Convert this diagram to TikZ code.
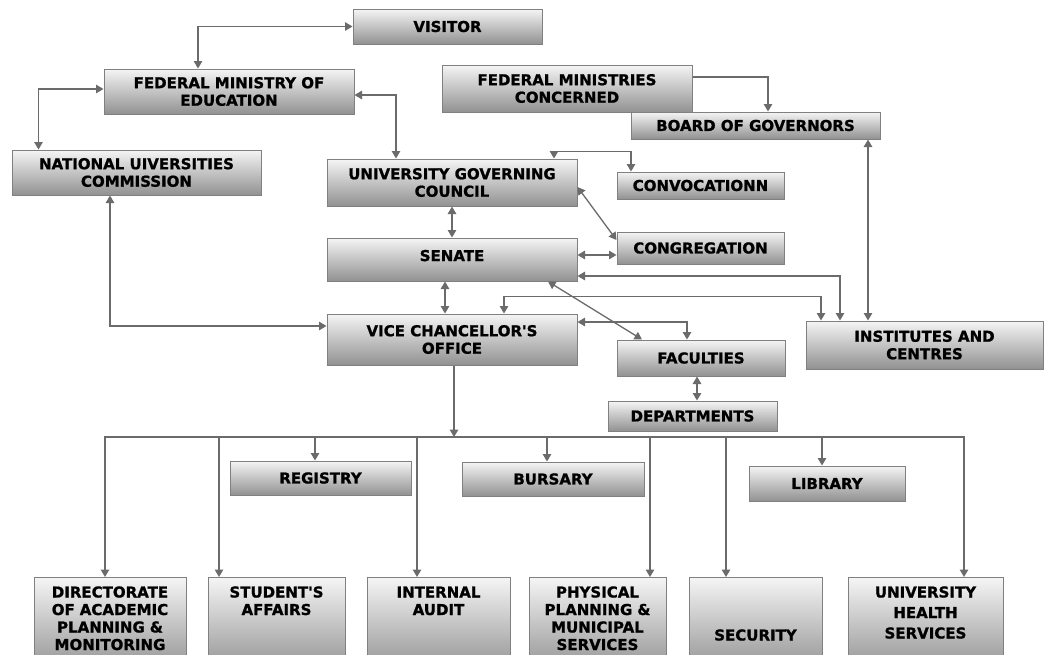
\documentclass[tikz,border=0pt]{standalone}
\usepackage{fontspec}
\setmainfont{DejaVu Sans}[Ligatures=TeXOff, BoldFeatures={FakeBold=1.1}]
\usetikzlibrary{arrows.meta}

\tikzset{
  caja/.style={draw=black!50, line width=1pt, top color=black!4, bottom color=black!43,
    font=\bfseries\fontsize{15}{17.5}\selectfont, align=center, inner sep=0pt},
  linea/.style={draw=black!58, line width=1.3pt},
  flecha/.style={linea, -{Triangle[length=7.5pt,width=8.5pt]}},
  flechas/.style={linea, {Triangle[length=7.5pt,width=8.5pt]}-{Triangle[length=7.5pt,width=8.5pt]}},
}

\begin{document}
\begin{tikzpicture}[x=1pt, y=-1pt]
\useasboundingbox (0,0) rectangle (1044,654);
\clip (0,0) rectangle (1044,654);

% Cajas superiores
\node[caja, minimum width=189pt, minimum height=35pt] (visitor) at (447.5,26.5) {VISITOR};
\node[caja, minimum width=250pt, minimum height=45pt] (fme) at (229,91.5) {FEDERAL MINISTRY OF\\EDUCATION};
\node[caja, minimum width=250pt, minimum height=47pt] (fmc) at (567,88.5) {FEDERAL MINISTRIES\\CONCERNED};
\node[caja, minimum width=249pt, minimum height=27pt] (bog) at (755.5,125.5) {BOARD OF GOVERNORS};
\node[caja, minimum width=249pt, minimum height=45pt] (nuc) at (136.5,172.5) {NATIONAL UIVERSITIES\\COMMISSION};
\node[caja, minimum width=250pt, minimum height=47pt] (ugc) at (452,182.5) {UNIVERSITY GOVERNING\\COUNCIL};
\node[caja, minimum width=167pt, minimum height=27pt] (convo) at (700.5,185.5) {CONVOCATIONN};
\node[caja, minimum width=167pt, minimum height=32pt] (congr) at (700.5,248) {CONGREGATION};
\node[caja, minimum width=250pt, minimum height=43pt, text depth=8pt] (senate) at (452,259.5) {SENATE};
\node[caja, minimum width=250pt, minimum height=51pt] (vco) at (452,339.5) {VICE CHANCELLOR'S\\OFFICE};
\node[caja, minimum width=168pt, minimum height=36pt] (fac) at (701,358) {FACULTIES};
\node[caja, minimum width=237pt, minimum height=48pt] (inst) at (924.5,345) {INSTITUTES AND\\CENTRES};
\node[caja, minimum width=169pt, minimum height=30pt] (dept) at (692.5,416) {DEPARTMENTS};

% Cajas intermedias
\node[caja, minimum width=181pt, minimum height=34pt] (reg) at (320.5,478) {REGISTRY};
\node[caja, minimum width=182pt, minimum height=34pt] (bur) at (553,479) {BURSARY};
\node[caja, minimum width=156pt, minimum height=35pt] (lib) at (827,483.5) {LIBRARY};

% Cajas inferiores (cortadas por el borde)
\foreach \nombre/\xc/\ancho/\alto/\prof/\texto in {
    dir/110/152/20/75/{DIRECTORATE\\OF ACADEMIC\\PLANNING \&\\MONITORING},
    stu/276.5/137/20/75/{STUDENT'S\\AFFAIRS},
    int/438.5/143/20/75/{INTERNAL\\AUDIT},
    phy/597.5/137/20/75/{PHYSICAL\\PLANNING \&\\MUNICIPAL\\SERVICES},
    sec/755.5/133/63/32/{SECURITY},
    uhs/925.5/155/20/75/{UNIVERSITY\\[3pt]HEALTH\\[3pt]SERVICES}} {
  \node[caja, anchor=north, text width=\ancho pt, text height=\alto pt, text depth=\prof pt]
    (\nombre) at (\xc,577) {\texto};
}

% Conectores
\draw[flechas] ([xshift=-31pt]fme.north) |- (visitor.west);
\draw[flechas] ([yshift=2.5pt]fme.west) -| ([xshift=-98pt]nuc.north);
\draw[flechas] ([yshift=-3.5pt]fme.east) -| ([xshift=-56pt]ugc.north);
\draw[flecha] ([yshift=11.5pt]fmc.east) -| ([xshift=12.5pt]bog.north);
\draw[flechas] ([xshift=102pt]ugc.north) -- ++(0,-7) -| ([xshift=-69.5pt]convo.north);
\draw[flechas] (ugc.south) -- (senate.north);
\draw[flechas] ([yshift=-4.5pt]ugc.east) -- ([yshift=8pt]congr.west);
\draw[flechas] ([yshift=-7pt]congr.west) -- ([yshift=-7pt]congr.west -| senate.east);
\draw[flechas] ([yshift=-16.5pt]senate.east) -| ([xshift=-84.5pt]inst.north);
\draw[flechas] ([xshift=52pt]vco.north) -- ++(0,-17) -| ([xshift=-103.5pt]inst.north);
\draw[flechas] ([xshift=-7pt]senate.south) -- ([xshift=-7pt]vco.north);
\draw[flechas] ([xshift=96pt]senate.south) -- ([xshift=-59pt]fac.north);
\draw[flechas] ([yshift=17.5pt]vco.east) -| ([xshift=-14pt]fac.north);
\draw[flechas] ([xshift=-4pt]fac.south) -- ([xshift=-4pt]fac.south |- dept.north);
\draw[flechas] ([xshift=112.5pt]bog.south) -- ([xshift=112.5pt]bog.south |- inst.north);
\draw[flechas] ([xshift=-26.5pt]nuc.south) |- ([yshift=13.5pt]vco.west);

% Bus inferior
\coordinate (bus) at (454,437);
\draw[flecha] (vco.south -| bus) -- (bus);
\draw[flechas] ([xshift=-5pt]dir.north) |- (bus) -| ([xshift=38.5pt]uhs.north);
\foreach \caja/\dx in {stu/-57.5, reg/-5.5, int/-21.5, bur/-6, phy/52.5, sec/-29.5, lib/-5}
  \draw[flecha] ([xshift=\dx pt]\caja.north |- bus) -- ([xshift=\dx pt]\caja.north);

\end{tikzpicture}
\end{document}
